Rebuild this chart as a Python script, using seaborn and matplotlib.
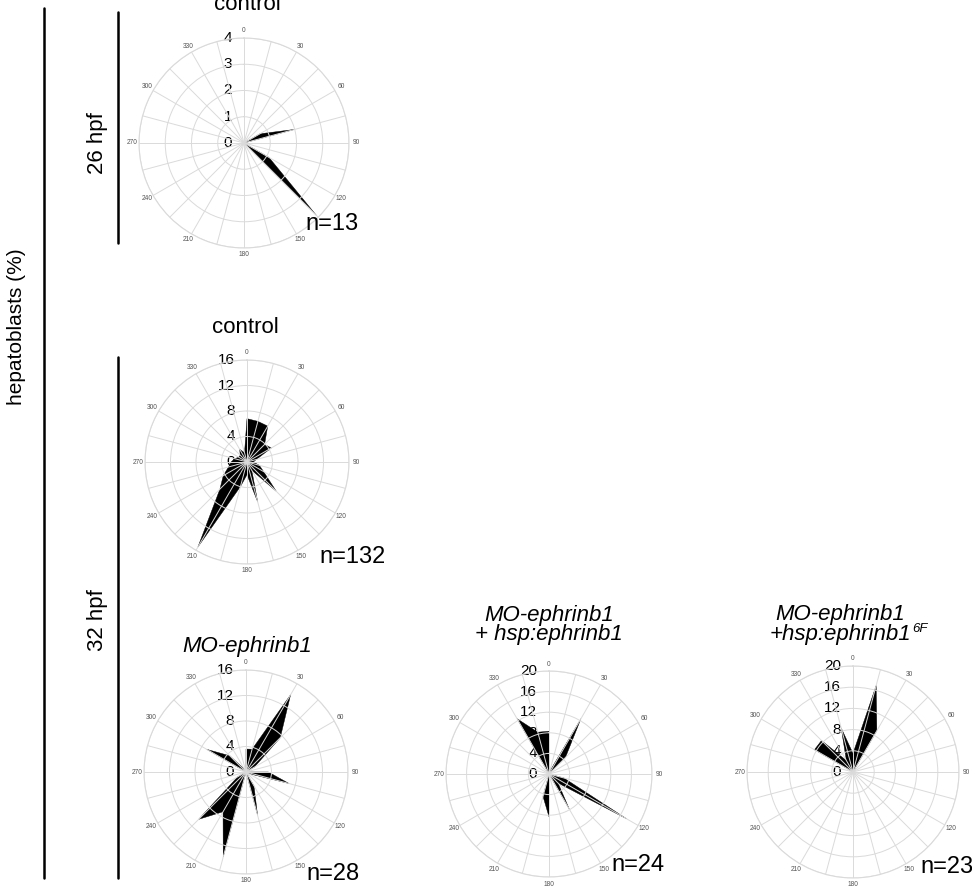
import numpy as np
import seaborn as sns
import matplotlib.pyplot as plt
from matplotlib.lines import Line2D
from matplotlib.transforms import ScaledTranslation

# bin centres (degrees, clockwise from top) and their labels
angles = [0, 15, 30, 45, 60, 75, 90, 105, 120, 135, 150, 165,
          180, 195, 210, 225, 240, 255, 270, 285, 300, 315, 330, 345]
angle_labels = ['0', '', '30', '', '60', '', '90', '', '120', '', '150', '',
                '180', '', '210', '', '240', '', '270', '', '300', '', '330', '']

# hepatoblast orientation per bin (%)
ctrl_26 = [0, 0, 0, 0, 0.7, 2.0, 0, 0, 1.1, 3.9, 0, 0,
           0, 0, 0, 0, 0, 0, 0, 0, 0, 0, 0, 0]
ctrl_32 = [6.8, 6.6, 6.5, 3.9, 4.4, 1.5, 1.0, 2.0, 3.0, 6.5, 1.5, 6.5,
           2.0, 4.0, 15.4, 6.0, 4.3, 3.0, 2.5, 2.0, 1.5, 1.5, 2.3, 1.5]
mo_ephrinb1 = [3.6, 3.7, 14.0, 7.6, 1.5, 0, 3.5, 7.0, 0.5, 0, 2.5, 7.0,
               0, 13.8, 7.2, 10.5, 1.5, 0, 0, 0, 7.1, 3.6, 0.5, 0]
mo_rescue = [8.3, 0.5, 12.4, 4.5, 0, 0, 0, 3.0, 17.4, 2.5, 7.9, 0,
             8.3, 4.5, 0, 0, 0, 0, 0, 0, 0, 0, 12.4, 8.4]
mo_rescue_6f = [3.5, 16.9, 9.0, 0, 0, 0, 0, 0, 0, 0, 0, 0,
                0, 0, 0, 0, 0, 0, 0, 0, 8.4, 8.4, 2.5, 8.6]

rticks_4 = [0, 1, 2, 3, 4]
rticks_16 = [0, 4, 8, 12, 16]
rticks_20 = [0, 4, 8, 12, 16, 20]

titles = [['control'], ['control'], ['MO-ephrinb1'],
          ['MO-ephrinb1', '+ hsp:ephrinb1'],
          ['MO-ephrinb1', '+hsp:ephrinb1']]
title_sups = ['', '', '', '', '6F']
n_labels = ['n=13', 'n=132', 'n=28', 'n=24', 'n=23']

W, H = 972, 892

sns.set_theme(style='white')
plt.rcParams['font.family'] = ['Liberation Sans', 'DejaVu Sans']
plt.rcParams['text.color'] = 'black'

fig = plt.figure(figsize=(W / 100, H / 100), dpi=100)


def fx(x):
    return x / W


def fy(y):
    return 1 - y / H


def rose(cx, cy, R, values, rticks):
    ax = fig.add_axes([fx(cx - R), fy(cy + R), 2 * R / W, 2 * R / H],
                      projection='polar')
    ax.set_theta_zero_location('N')
    ax.set_theta_direction(-1)
    theta = np.deg2rad(angles + [angles[0]])
    ax.fill(theta, values + [values[0]], color='black', lw=0.3, zorder=1)
    rmax = rticks[-1]
    ax.set_ylim(0, rmax)
    ax.set_yticks(rticks[1:])
    ax.set_yticklabels([])
    ax.set_xticks(np.deg2rad(angles))
    ax.set_xticklabels([])
    ax.grid(True, color='#dadada', lw=0.7)
    ax.set_axisbelow(False)
    ax.spines['polar'].set_color('#dadada')
    ax.spines['polar'].set_linewidth(0.8)
    # angle labels just outside the rim
    for a, lab in zip(angles, angle_labels):
        if not lab:
            continue
        t = np.deg2rad(a)
        off = ScaledTranslation(7 * np.sin(t) / 100, 7 * np.cos(t) / 100,
                                fig.dpi_scale_trans)
        ax.text(t, rmax, lab, transform=ax.transData + off, ha='center',
                va='center', fontsize=4.8, color='#555555', clip_on=False)
    # radial labels left of the 0 spoke, under the filled rose
    off = ScaledTranslation(-12 / 100, 0, fig.dpi_scale_trans)
    for r in rticks:
        ax.text(0, r, str(r), transform=ax.transData + off, ha='right',
                va='center', fontsize=11, color='black', zorder=0.5)
    return ax


# centre x, centre y, radius (px), title x, title baselines, n label x, y
layout = [
    (244, 143, 105, 247, [10], 305, 230),
    (247, 462, 102, 245, [333], 319, 563),
    (246, 772, 102, 247, [652], 306, 880),
    (549, 774, 103, 549, [621, 640], 611, 871),
    (853, 772, 106, 840, [620, 640], 920, 873),
]
series = [ctrl_26, ctrl_32, mo_ephrinb1, mo_rescue, mo_rescue_6f]
rtick_sets = [rticks_4, rticks_16, rticks_16, rticks_20, rticks_20]

sup_anchors = []
for i, (cx, cy, R, tx, tys, nx, ny) in enumerate(layout):
    rose(cx, cy, R, series[i], rtick_sets[i])
    style = 'normal' if i < 2 else 'italic'
    last = None
    for line, ty in zip(titles[i], tys):
        last = fig.text(fx(tx), fy(ty), line, ha='center', va='baseline',
                        fontsize=16, style=style)
    if title_sups[i]:
        sup_anchors.append((last, tys[-1], title_sups[i]))
    fig.text(fx(nx), fy(ny), n_labels[i], ha='left', va='baseline',
             fontsize=17)

# small superscript after the last title line
fig.canvas.draw()
renderer = fig.canvas.get_renderer()
for txt, base, sup in sup_anchors:
    bb = txt.get_window_extent(renderer)
    fig.text(fx(bb.x1 + 1), fy(base - 8), sup, ha='left', va='baseline',
             fontsize=9.5, style='italic')

# bracket lines and side labels
for x, y0, y1 in [(44, 8, 878), (118, 12, 243), (118, 357, 878)]:
    fig.add_artist(Line2D([fx(x), fx(x)], [fy(y0), fy(y1)], color='black',
                          lw=1.8, transform=fig.transFigure))
fig.text(fx(17), fy(327), 'hepatoblasts (%)', rotation=90, ha='center',
         va='center', fontsize=15)
fig.text(fx(97), fy(143), '26 hpf', rotation=90, ha='center', va='center',
         fontsize=16)
fig.text(fx(97), fy(620), '32 hpf', rotation=90, ha='center', va='center',
         fontsize=16)

fig.savefig('out.png', dpi=100)
